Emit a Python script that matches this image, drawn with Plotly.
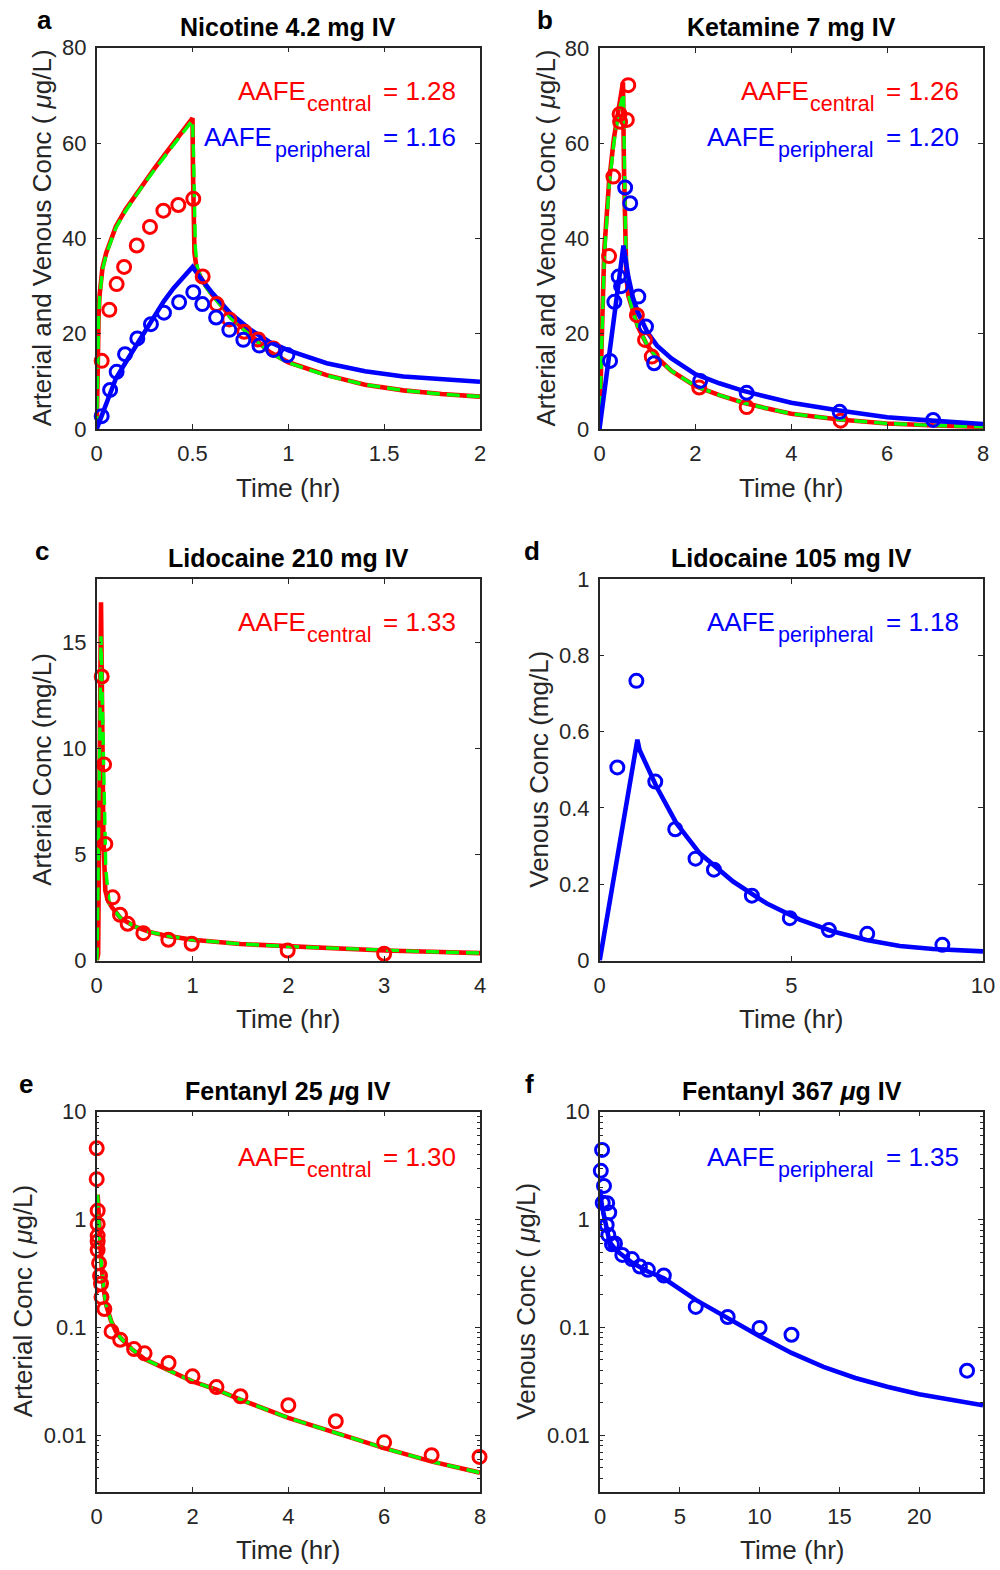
import plotly.graph_objects as go

W, H = 1000, 1570

# ---------------- data ----------------
# a: Nicotine 4.2 mg IV
a_obs_art_t = [0.026, 0.066, 0.104, 0.143, 0.209, 0.278, 0.348, 0.426, 0.504, 0.553, 0.626, 0.692, 0.770, 0.843, 0.922]
a_obs_art_c = [14.3, 25.0, 30.4, 34.0, 38.5, 42.4, 45.8, 47.0, 48.3, 32.0, 26.2, 23.0, 20.4, 18.8, 16.9]
a_obs_ven_t = [0.026, 0.07, 0.104, 0.148, 0.212, 0.283, 0.351, 0.43, 0.504, 0.551, 0.623, 0.692, 0.765, 0.849, 0.922, 0.995]
a_obs_ven_c = [2.7, 8.2, 12.0, 15.7, 19.0, 22.0, 24.4, 26.6, 28.7, 26.2, 23.4, 20.8, 18.7, 17.5, 16.6, 15.5]
a_art_t = [0, 0.003, 0.006, 0.01, 0.015, 0.02, 0.03, 0.05, 0.075, 0.1, 0.15, 0.2, 0.25, 0.3, 0.35, 0.4, 0.45, 0.5,
           0.502, 0.505, 0.51, 0.52, 0.54, 0.57, 0.6, 0.65, 0.7, 0.8, 0.9, 1.0, 1.2, 1.4, 1.6, 1.8, 2.0]
a_art_c = [0, 10, 18, 24, 28, 30.7, 33.8, 37.0, 40.0, 42.5, 46.0, 49.0, 51.9, 54.6, 57.3, 59.9, 62.5, 65.2,
           55, 45, 37, 34, 32, 30, 28.3, 26, 23.4, 19.8, 16.2, 14.0, 11.3, 9.3, 8.1, 7.35, 6.8]
a_art2_t = [0, 0.003, 0.006, 0.01, 0.015, 0.02, 0.03, 0.05, 0.075, 0.1, 0.15, 0.2, 0.25, 0.3, 0.35, 0.4, 0.45, 0.5,
            0.505, 0.51, 0.515, 0.525, 0.545, 0.57, 0.6, 0.65, 0.7, 0.8, 0.9, 1.0, 1.2, 1.4, 1.6, 1.8, 2.0]
a_art2_c = [0, 9, 17, 23, 27.5, 30.2, 33.4, 36.7, 39.7, 42.2, 45.7, 48.7, 51.6, 54.3, 57.0, 59.6, 62.2, 64.8,
            58, 46, 38, 34, 31.5, 29.8, 28.1, 25.8, 23.2, 19.6, 16.1, 13.9, 11.2, 9.3, 8.1, 7.3, 6.8]
a_ven_t = [0, 0.05, 0.1, 0.15, 0.2, 0.25, 0.3, 0.35, 0.4, 0.45, 0.5, 0.55, 0.6, 0.7, 0.8, 0.9, 1.0, 1.2, 1.4, 1.6, 1.8, 2.0]
a_ven_c = [0, 5.2, 10.6, 13.9, 17.2, 20.4, 23.6, 26.8, 29.5, 31.8, 34.0, 31.2, 28.7, 24.2, 20.9, 18.3, 16.5, 13.8, 12.1, 11.0, 10.4, 9.9]

# b: Ketamine 7 mg IV
b_obs_art_t = [0.20, 0.29, 0.42, 0.43, 0.57, 0.60, 0.78, 0.95, 1.09, 2.08, 3.07, 5.03]
b_obs_art_c = [36.3, 53.0, 66.1, 64.5, 64.9, 72.2, 23.9, 18.7, 15.2, 8.7, 4.6, 1.75]
b_obs_ven_t = [0.22, 0.31, 0.40, 0.45, 0.535, 0.64, 0.81, 0.97, 1.14, 2.10, 3.07, 5.01, 6.96]
b_obs_ven_c = [14.3, 26.7, 32.0, 30.0, 50.7, 47.4, 27.8, 21.5, 13.8, 10.1, 7.6, 3.6, 1.9]
b_art_t = [0, 0.02, 0.05, 0.1, 0.2, 0.3, 0.4, 0.49, 0.51, 0.53, 0.56, 0.6, 0.7, 0.8, 1.0, 1.2, 1.5, 2.0, 2.5, 3.0, 3.5, 4.0, 5.0, 6.0, 7.0, 8.0]
b_art_c = [0, 10, 20, 37.6, 52, 61, 67.5, 72.8, 55, 40, 32, 28, 24.5, 21.5, 17.5, 15, 12.2, 9.0, 7.1, 5.5, 4.3, 3.2, 2.0, 1.15, 0.75, 0.45]
b_art2_t = [0, 0.02, 0.05, 0.1, 0.2, 0.3, 0.4, 0.5, 0.52, 0.54, 0.57, 0.61, 0.7, 0.8, 1.0, 1.2, 1.5, 2.0, 2.5, 3.0, 3.5, 4.0, 5.0, 6.0, 7.0, 8.0]
b_art2_c = [0, 9, 19, 36, 51, 60, 66.5, 70.5, 56, 42, 33, 28, 24.5, 21.5, 17.5, 15, 12.2, 9.0, 7.1, 5.5, 4.3, 3.2, 2.0, 1.15, 0.75, 0.45]
b_ven_t = [0, 0.1, 0.2, 0.3, 0.4, 0.5, 0.6, 0.7, 0.8, 1.0, 1.2, 1.5, 2.0, 2.5, 3.0, 3.5, 4.0, 5.0, 6.0, 7.0, 8.0]
b_ven_c = [0, 8, 16, 24, 31, 38.5, 32, 27.5, 24.5, 20.3, 17.5, 14.8, 11.5, 9.6, 8.0, 6.7, 5.5, 3.9, 2.45, 1.7, 1.05]

# c: Lidocaine 210 mg IV (arterial)
c_obs_t = [0.052, 0.077, 0.090, 0.167, 0.243, 0.323, 0.487, 0.748, 0.991, 1.993, 3.0]
c_obs_c = [13.4, 9.25, 5.5, 2.98, 2.16, 1.73, 1.29, 0.98, 0.79, 0.47, 0.32]
c_art_t = [0, 0.015, 0.045, 0.055, 0.07, 0.09, 0.12, 0.16, 0.25, 0.4, 0.55, 0.75, 1.0, 1.5, 2.0, 2.5, 3.0, 3.5, 4.0]
c_art_c = [0, 0.3, 16.9, 12, 5.8, 3.3, 2.8, 2.5, 2.0, 1.6, 1.35, 1.15, 0.98, 0.78, 0.66, 0.57, 0.47, 0.41, 0.35]
c_art2_t = [0, 0.005, 0.045, 0.07, 0.095, 0.13, 0.16, 0.25, 0.4, 0.55, 0.75, 1.0, 1.5, 2.0, 2.5, 3.0, 3.5, 4.0]
c_art2_c = [0, 0.3, 15.3, 10.6, 4.3, 2.7, 2.5, 2.0, 1.6, 1.35, 1.15, 0.98, 0.78, 0.66, 0.57, 0.47, 0.41, 0.35]

# d: Lidocaine 105 mg IV (venous)
d_obs_t = [0.46, 0.957, 1.45, 1.97, 2.50, 2.98, 3.97, 4.96, 5.98, 6.98, 8.94]
d_obs_c = [0.506, 0.733, 0.469, 0.344, 0.267, 0.238, 0.170, 0.111, 0.080, 0.070, 0.041]
d_ven_t = [0, 0.983, 1.04, 1.48, 2.0, 2.61, 3.48, 4.35, 5.22, 6.09, 6.96, 7.83, 8.70, 10.0]
d_ven_c = [0, 0.579, 0.552, 0.456, 0.36, 0.281, 0.207, 0.150, 0.107, 0.076, 0.054, 0.038, 0.030, 0.024]

# e: Fentanyl 25 ug IV (arterial)
e_obs_t = [0.0, 0.0, 0.02, 0.02, 0.02, 0.02, 0.02, 0.05, 0.07, 0.09, 0.10, 0.16, 0.31, 0.49, 0.78, 1.0, 1.5, 2.0, 2.5, 3.0, 4.0, 4.99, 6.0, 6.99, 7.99]
e_obs_c = [4.58, 2.37, 1.21, 0.906, 0.706, 0.625, 0.524, 0.394, 0.301, 0.254, 0.191, 0.148, 0.0918, 0.0769, 0.063, 0.0575, 0.0468, 0.0352, 0.0280, 0.0230, 0.0190, 0.0135, 0.0086, 0.00653, 0.0063]
e_art_t = [0.02, 0.04, 0.07, 0.1, 0.15, 0.2, 0.3, 0.4, 0.5, 0.75, 1.0, 1.5, 2.0, 2.5, 3.0, 4.0, 5.0, 6.0, 7.0, 8.0]
e_art_c = [1.7, 1.0, 0.6, 0.38, 0.22, 0.16, 0.115, 0.092, 0.08, 0.062, 0.051, 0.040, 0.0316, 0.0265, 0.0214, 0.0145, 0.0105, 0.0076, 0.0057, 0.0045]

# f: Fentanyl 367 ug IV (venous)
f_obs_t = [0.13, 0.05, 0.25, 0.17, 0.45, 0.58, 0.42, 0.52, 0.75, 0.94, 1.4, 2.0, 2.5, 3.0, 4.0, 6.0, 8.0, 10.0, 12.0, 23.0]
f_obs_c = [4.42, 2.83, 2.05, 1.43, 1.42, 1.16, 0.89, 0.72, 0.59, 0.60, 0.47, 0.43, 0.367, 0.342, 0.303, 0.155, 0.125, 0.099, 0.0855, 0.0397]
f_ven_t = [0, 0.1, 0.3, 0.6, 1.0, 1.5, 2.0, 3.0, 4.0, 6.0, 8.0, 10.0, 12.0, 14.0, 16.0, 18.0, 20.0, 22.0, 24.0]
f_ven_c = [1.9, 1.4, 1.0, 0.62, 0.52, 0.45, 0.40, 0.33, 0.285, 0.18, 0.121, 0.083, 0.058, 0.043, 0.034, 0.0282, 0.0240, 0.0212, 0.019]

titles = ["Nicotine 4.2 mg IV", "Ketamine 7 mg IV", "Lidocaine 210 mg IV",
          "Lidocaine 105 mg IV", "Fentanyl 25 <i>μ</i>g IV", "Fentanyl 367 <i>μ</i>g IV"]
letters = ["a", "b", "c", "d", "e", "f"]
ylabels = ["Arterial and Venous Conc ( <i>μ</i>g/L)", "Arterial and Venous Conc ( <i>μ</i>g/L)",
           "Arterial Conc (mg/L)", "Venous Conc (mg/L)",
           "Arterial Conc ( <i>μ</i>g/L)", "Venous Conc ( <i>μ</i>g/L)"]
aafe_central = ["1.28", "1.26", "1.33", None, "1.30", None]
aafe_periph = ["1.16", "1.20", None, "1.18", None, "1.35"]

RED, GREEN, BLUE = "#FF0000", "#00FF00", "#0000FF"
INK = "#262626"
FONT = "Liberation Sans, Arial, Helvetica, sans-serif"

# panel boxes in pixels: x0, x1, y_top, y_bottom
boxes = [(96.7, 480, 47.7, 429), (599.5, 983, 48, 429),
         (96.7, 480, 579, 960.5), (599.7, 983, 579, 960.5),
         (96.7, 480, 1111.7, 1491.7), (600, 983, 1111.7, 1491.7)]

def px(x):
    return x / W

def py(y):
    return 1 - y / H

fig = go.Figure()

def line(i, t, c, color, width=4.6, dash=None):
    ax = "" if i == 0 else str(i + 1)
    fig.add_trace(go.Scatter(x=t, y=c, mode="lines", xaxis="x" + ax, yaxis="y" + ax,
                             line=dict(color=color, width=width, dash=dash), showlegend=False,
                             hoverinfo="skip"))

def pts(i, t, c, color):
    ax = "" if i == 0 else str(i + 1)
    fig.add_trace(go.Scatter(x=t, y=c, mode="markers", xaxis="x" + ax, yaxis="y" + ax,
                             marker=dict(symbol="circle-open", size=13, color=color,
                                         line=dict(color=color, width=3)),
                             cliponaxis=False, showlegend=False))

DASH = "13px,7px"
GW = 3.4
# a
line(0, a_art_t, a_art_c, RED)
line(0, a_art2_t, a_art2_c, GREEN, GW, DASH)
line(0, a_ven_t, a_ven_c, BLUE)
pts(0, a_obs_art_t, a_obs_art_c, RED)
pts(0, a_obs_ven_t, a_obs_ven_c, BLUE)
# b
line(1, b_art_t, b_art_c, RED)
line(1, b_art2_t, b_art2_c, GREEN, GW, DASH)
line(1, b_ven_t, b_ven_c, BLUE)
pts(1, b_obs_art_t, b_obs_art_c, RED)
pts(1, b_obs_ven_t, b_obs_ven_c, BLUE)
# c
line(2, c_art_t, c_art_c, RED)
line(2, c_art2_t, c_art2_c, GREEN, GW, DASH)
pts(2, c_obs_t, c_obs_c, RED)
# d
line(3, d_ven_t, d_ven_c, BLUE)
pts(3, d_obs_t, d_obs_c, BLUE)
# e
line(4, e_art_t, e_art_c, RED)
line(4, e_art_t, e_art_c, GREEN, GW, DASH)
pts(4, e_obs_t, e_obs_c, RED)
# f
line(5, f_ven_t, f_ven_c, BLUE)
pts(5, f_obs_t, f_obs_c, BLUE)

xranges = [[0, 2], [0, 8], [0, 4], [0, 10], [0, 8], [0, 24]]
xticks = [[0, 0.5, 1, 1.5, 2], [0, 2, 4, 6, 8], [0, 1, 2, 3, 4], [0, 5, 10], [0, 2, 4, 6, 8], [0, 5, 10, 15, 20]]
xtext = [["0", "0.5", "1", "1.5", "2"], None, None, None, None, None]
yranges = [[0, 80], [0, 80], [0, 18], [0, 1], [-2.5229, 1], [-2.5229, 1]]
yticks = [[0, 20, 40, 60, 80], [0, 20, 40, 60, 80], [0, 5, 10, 15], [0, 0.2, 0.4, 0.6, 0.8, 1],
          [0.01, 0.1, 1, 10], [0.01, 0.1, 1, 10]]
ytext = [None, None, None, ["0", "0.2", "0.4", "0.6", "0.8", "1"], ["0.01", "0.1", "1", "10"], ["0.01", "0.1", "1", "10"]]
minor_log = [m * 10 ** e for e in range(-3, 1) for m in range(2, 10) if 0.003 <= m * 10 ** e <= 10]

layout = dict(width=W, height=H, margin=dict(l=0, r=0, t=0, b=0, pad=0), autosize=False,
              paper_bgcolor="white", plot_bgcolor="white", showlegend=False,
              font=dict(family=FONT, color=INK))
TICKF = 22
annotations = []

def ann(text, x, y, size, color, xanchor="center", bold=False, angle=0):
    annotations.append(dict(text=("<b>" + text + "</b>") if bold else text, x=px(x), y=py(y),
                            xref="paper", yref="paper", xanchor=xanchor, yanchor="middle",
                            showarrow=False, textangle=angle, borderpad=0,
                            font=dict(size=size, family=FONT, color=color)))

for i, (x0, x1, yt, yb) in enumerate(boxes):
    ax = "" if i == 0 else str(i + 1)
    xa = dict(domain=[px(x0), px(x1)], range=xranges[i], anchor="y" + ax,
              showline=True, linecolor=INK, linewidth=1.5, mirror="ticks",
              ticks="inside", ticklen=5, tickwidth=1.3, tickcolor=INK,
              tickmode="array", tickvals=xticks[i],
              tickfont=dict(size=TICKF, family=FONT, color=INK),
              showgrid=False, zeroline=False, ticklabelstandoff=4, automargin=False)
    if xtext[i]:
        xa["ticktext"] = xtext[i]
    ya = dict(domain=[py(yb), py(yt)], range=yranges[i], anchor="x" + ax,
              showline=True, linecolor=INK, linewidth=1.5, mirror="ticks",
              ticks="inside", ticklen=5, tickwidth=1.3, tickcolor=INK,
              tickmode="array", tickvals=yticks[i],
              tickfont=dict(size=TICKF, family=FONT, color=INK),
              showgrid=False, zeroline=False, ticklabelstandoff=4, automargin=False)
    if ytext[i]:
        ya["ticktext"] = ytext[i]
    if i >= 4:
        ya["type"] = "log"
        ya["minor"] = dict(tickmode="array", tickvals=minor_log, ticks="inside", ticklen=3,
                           tickwidth=1, tickcolor=INK, showgrid=False)
    layout["xaxis" + ax] = xa
    layout["yaxis" + ax] = ya

    cx = (x0 + x1) / 2
    ann(titles[i], cx, yt - 21, 25, "black", bold=True)
    ann(letters[i], [44, 545, 42, 532, 26, 529][i], yt - 28, 26, "black", bold=True)
    ann("Time (hr)", cx, yb + 58.5, 26, INK)
    ann(ylabels[i], [42, 545, 42, 539, 22.5, 526][i], (yt + yb) / 2, 26, INK, angle=-90)

    # AAFE labels: main text, subscript, value
    R = x1 - 23
    dy = 42.8 if i < 4 else 45.5
    rows = []
    if aafe_central[i]:
        rows.append(("central", aafe_central[i], RED, 150.3, 151.0))
    if aafe_periph[i]:
        rows.append(("peripheral", aafe_periph[i], BLUE, 183.7, 182.8))
    for k, (sub, val, col, off_main, off_sub) in enumerate(rows):
        yc = yt + dy + 46 * k
        ann("AAFE", R - off_main, yc, 26, col, xanchor="right")
        ann(sub, R - off_sub, yc + 13, 21.5, col, xanchor="left")
        ann("= " + val, R, yc, 26, col, xanchor="right")

layout["annotations"] = annotations
fig.update_layout(**layout)
fig.write_html("out.html", post_script="document.body.style.margin='0';document.body.style.padding='0';")
